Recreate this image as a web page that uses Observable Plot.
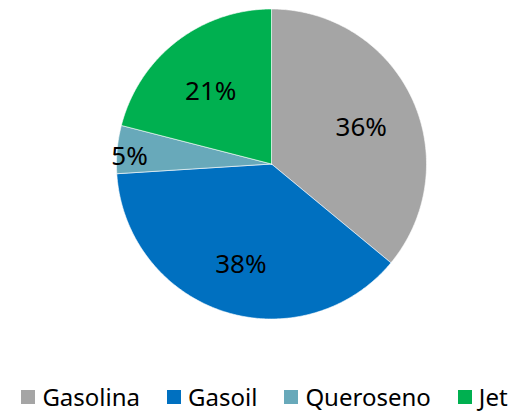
<!DOCTYPE html>
<html>
<head>
<meta charset="utf-8">
<script src="https://cdn.jsdelivr.net/npm/d3@7"></script>
<script src="https://cdn.jsdelivr.net/npm/@observablehq/plot@0.6"></script>
<style>
  html, body { margin: 0; padding: 0; background: #fff; overflow: hidden; }
  #chart { width: 529px; height: 412px; position: relative; font-family: "Noto Sans", "Open Sans", sans-serif; }
  .legend { display: flex; justify-content: center; align-items: center; gap: 27px; margin-top: 45px; font-size: 24px; line-height: 24px; color: #000; }
  .legend .item { display: flex; align-items: center; gap: 7px; }
  .legend .sw { width: 14px; height: 14px; display: inline-block; }
</style>
</head>
<body>
<div id="chart"></div>
<script>
const categories = ["Gasolina", "Gasoil", "Queroseno", "Jet"];
const shares = [36, 38, 5, 21];
const colors = ["#A5A5A5", "#0070C0", "#68A9BA", "#00B050"];

// Build slice polygons from the data with d3.pie (start at 12 o'clock, clockwise)
const pie = d3.pie().sort(null).value(d => d.value);
const arcs = pie(categories.map((c, i) => ({category: c, value: shares[i]})));

const ring = [];
for (const a of arcs) {
  const cat = a.data.category;
  ring.push({category: cat, x: 0, y: 0});
  const n = Math.max(4, Math.ceil((a.endAngle - a.startAngle) / 0.01));
  for (let k = 0; k <= n; k++) {
    const t = a.startAngle + (a.endAngle - a.startAngle) * k / n;
    ring.push({category: cat, x: Math.sin(t), y: Math.cos(t)});
  }
  ring.push({category: cat, x: 0, y: 0});
}

const labels = arcs.map(a => {
  const mid = (a.startAngle + a.endAngle) / 2;
  const r = a.data.value < 10 ? 0.92 : 0.64;
  return {text: a.data.value + "%", x: r * Math.sin(mid), y: r * Math.cos(mid)};
});

const W = 529, H = 340, R = 155, CX = 271, CY = 163.5;
const plot = Plot.plot({
  width: W,
  height: H,
  marginLeft: CX - R,
  marginRight: W - CX - R,
  marginTop: CY - R,
  marginBottom: H - CY - R,
  x: {domain: [-1, 1], axis: null},
  y: {domain: [-1, 1], axis: null},
  color: {domain: categories, range: colors},
  style: {fontFamily: "Noto Sans, Open Sans, sans-serif", background: "white", overflow: "visible"},
  marks: [
    Plot.line(ring, {x: "x", y: "y", z: "category", fill: "category", stroke: "white", strokeWidth: 0.6, curve: "linear-closed"}),
    Plot.text(labels, {x: "x", y: "y", text: "text", fontSize: 26, fill: "#000", dy: 6})
  ]
});

const root = document.getElementById("chart");
root.appendChild(plot);

const legend = document.createElement("div");
legend.className = "legend";
categories.forEach((c, i) => {
  const item = document.createElement("div");
  item.className = "item";
  const sw = document.createElement("span");
  sw.className = "sw";
  sw.style.background = colors[i];
  const lab = document.createElement("span");
  lab.textContent = c;
  item.appendChild(sw);
  item.appendChild(lab);
  legend.appendChild(item);
});
root.appendChild(legend);
</script>
</body>
</html>
